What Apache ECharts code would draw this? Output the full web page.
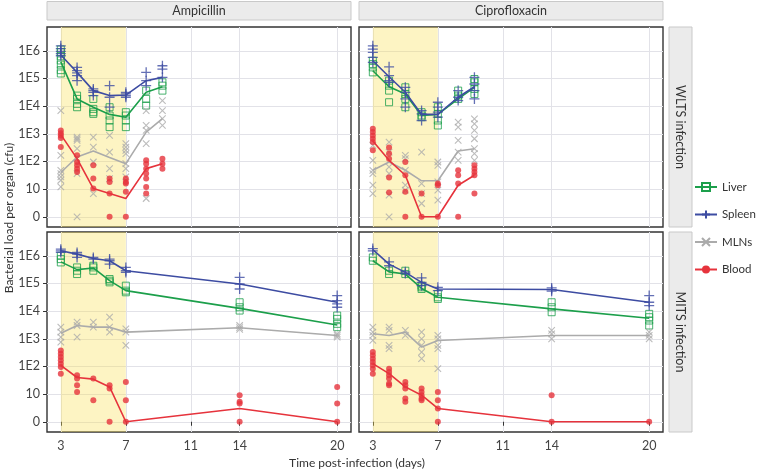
<!DOCTYPE html>
<html><head><meta charset="utf-8">
<script src="https://cdn.jsdelivr.net/npm/echarts@6/dist/echarts.min.js"></script>
<style>html,body{margin:0;padding:0;background:#fff}#c{width:757px;height:472px}</style>
</head><body><div id="c"></div>
<script>
// ---- DATA (y values are log10 cfu; 0 means no bacteria detected) ----
const wltsDays = [3, 4, 5, 6, 7, 8.25, 9.25];
const mitsDays = [3, 4, 5, 6, 7, 14, 20];
const xTicks = [3, 7, 11, 14, 20];
const yTicks = [0, 1, 2, 3, 4, 5, 6];
const yTickLabels = ['0', '10', '1E2', '1E3', '1E4', '1E5', '1E6'];
const drugs = ['Ampicillin', 'Ciprofloxacin'];
const infections = ['WLTS infection', 'MITS infection'];
const organs = ['Liver', 'Spleen', 'MLNs', 'Blood'];
const treatStart = 3, treatEnd = 7;

// Ampicillin, WLTS
const ampWltsLiverPts = [[6.05,5.95,5.8,5.65,5.5,5.3,5.18],[4.38,4.26,4.08,3.96],[4.26,3.9,3.78,3.72],[3.96,3.66,3.48,3.24],[3.78,3.66,3.48,3.24],[4.56,4.26,4.02],[4.86,4.74,4.56]];
const ampWltsLiverMean = [5.6, 4.26, 3.96, 3.7, 3.6, 4.5, 4.7];
const ampWltsSpleenPts = [[6.18,6.08,5.98,5.9,5.82],[5.4,5.28,5.2,5.1,4.92],[4.62,4.56,4.5,4.38],[4.74,4.32,3.96],[4.5,4.44,4.38,4.32],[5.22,4.92,4.74],[5.46,5.34,5.04]];
const ampWltsSpleenMean = [5.85, 5.22, 4.56, 4.38, 4.4, 4.92, 5.04];
const ampWltsMlnPts = [[3.84,2.22,1.68,1.56,1.44,1.32,1.08],[2.88,2.82,2.76,2.46,2.1,1.56,0],[2.88,2.52,1.98,0.84],[2.94,2.34,1.74,1.38],[2.64,2.52,2.4,2.28,1.92,1.74,1.44],[3.84,3.3,3.12,2.64,0.66],[4.2,3.84,3.55,3.3]];
const ampWltsMlnMean = [1.6, 2.16, 2.38, 2.14, 1.92, 3.06, 3.55];
const ampWltsBloodPts = [[3.12,3.02,2.94,2.85,2.52],[2.22,1.98,1.86,1.74,1.62],[1.86,1.38,1.02],[1.38,1.26,0.84,0],[1.38,1.26,1.2,0.9,0],[2.04,1.92,1.74,1.56,1.38,1.08,0.84],[2.1,1.92,1.74]];
const ampWltsBloodMean = [2.97, 2.1, 1.02, 0.84, 0.66, 1.74, 1.92];

// Ciprofloxacin, WLTS
const cipWltsLiverPts = [[5.64,5.52,5.4,5.22],[4.92,4.74,4.56,4.14],[4.68,4.44,4.26,3.96],[3.78,3.66,3.6],[3.96,3.72,3.48,3.3],[4.56,4.38,4.26],[4.98,4.86,4.62,4.44]];
const cipWltsLiverMean = [5.28, 4.7, 4.44, 3.66, 3.7, 4.26, 4.68];
const cipWltsSpleenPts = [[6.18,6.06,5.94,5.76,5.58],[5.42,5.1,4.92,4.86],[4.68,4.5,4.26,3.96],[3.84,3.72,3.48],[4.14,3.96,3.78,3.6],[4.56,4.32,4.2],[5.04,4.8,4.56,4.26]];
const cipWltsSpleenMean = [5.64, 5.06, 4.5, 3.7, 3.7, 4.32, 4.7];
const cipWltsMlnPts = [[2.58,2.04,1.68,1.56,1.14,0.84],[2.7,2.34,1.8,1.56,0.78,0],[2.22,2.1,1.68,1.14,0.96],[2.34,1.2,0.84,0.48],[1.98,1.86,1.26,0.96,0.6],[3.42,3.24,2.76,2.34,2.04],[3.54,3.36,3.12,2.82,2.46,2.28,2.04]];
const cipWltsMlnMean = [1.68, 1.98, 1.68, 1.3, 1.3, 2.38, 2.46];
const cipWltsBloodPts = [[3.18,3.06,2.94,2.82,2.7,2.4],[2.5,2.29,2.1,1.42,0.88],[1.98,1.5,0.9,0],[0.84,0],[1.2,1.14,0],[1.68,1.5,1.2,0],[1.86,1.74,1.62,1.5,0.84]];
const cipWltsBloodMean = [2.74, 2.04, 1.5, 0, 0, 1.14, 1.5];

// Ampicillin, MITS
const ampMitsLiverPts = [[6.0,5.88,5.76],[5.58,5.46,5.34],[5.64,5.58,5.46],[5.16,5.1,5.04],[4.92,4.74,4.68],[4.32,4.14,4.02],[3.84,3.72,3.54,3.42]];
const ampMitsLiverMean = [5.78, 5.5, 5.56, 5.1, 4.74, 4.1, 3.5];
const ampMitsSpleenPts = [[6.24,6.18,6.12],[6.12,6.06,5.94],[5.94,5.88],[5.88,5.82,5.7],[5.58,5.46,5.4],[5.22,4.98,4.8],[4.56,4.38,4.26,4.14]];
const ampMitsSpleenMean = [6.18, 6.06, 5.9, 5.82, 5.46, 4.98, 4.32];
const ampMitsMlnPts = [[3.42,3.24,3.06,2.88],[3.6,3.48,3.06],[3.6,3.42],[3.78,3.42,3.24],[3.36,3.24,2.76],[3.48,3.4,3.34],[3.18,3.12,3.06]];
const ampMitsMlnMean = [3.2, 3.48, 3.42, 3.42, 3.24, 3.4, 3.12];
const ampMitsBloodPts = [[2.58,2.46,2.34,2.22,2.1,1.98,1.74],[1.68,1.56,1.32,1.08],[1.56,0.78],[1.32,1.2,0],[1.44,0.78,0],[0.96,0.72,0.66,0],[1.26,0.66,0]];
const ampMitsBloodMean = [2.04, 1.6, 1.54, 1.26, 0, 0.48, 0];

// Ciprofloxacin, MITS
const cipMitsLiverPts = [[5.94,5.82],[5.46,5.34],[5.46,5.34],[4.92,4.86,4.8],[4.62,4.5,4.44],[4.32,4.14,3.96],[3.9,3.78,3.66,3.48]];
const cipMitsLiverMean = [5.82, 5.42, 5.34, 4.82, 4.5, 4.08, 3.74];
const cipMitsSpleenPts = [[6.26,6.18],[5.78,5.64],[5.42,5.36],[5.2,5.04,4.92],[4.86,4.74],[4.84,4.78,4.72],[4.56,4.32,4.2]];
const cipMitsSpleenMean = [6.22, 5.7, 5.4, 5.04, 4.8, 4.78, 4.32];
const cipMitsMlnPts = [[3.42,3.24,3.12,2.94],[3.42,3.3,2.76,2.64],[3.3,3.12],[3.24,3.0,2.76,2.52,2.28],[3.12,3.0,2.76,2.64,1.92],[3.3,3.18,3.0],[3.24,3.12,3.0]];
const cipMitsMlnMean = [3.18, 3.12, 3.24, 2.7, 2.94, 3.12, 3.12];
const cipMitsBloodPts = [[2.52,2.4,2.28,2.16,2.04,1.92,1.74],[1.92,1.8,1.68,1.56,1.38,1.32],[1.44,1.32,1.2,0.84,0.72],[1.2,1.08,0.96,0.84,0.78],[1.08,0.78,0.48,0],[0.96,0],[0]];
const cipMitsBloodMean = [2.1, 1.74, 1.26, 0.96, 0.48, 0, 0];

// ---- BUILD ----
const panels = [
  {days: wltsDays, d: [[ampWltsLiverPts,ampWltsLiverMean],[ampWltsSpleenPts,ampWltsSpleenMean],[ampWltsMlnPts,ampWltsMlnMean],[ampWltsBloodPts,ampWltsBloodMean]]},
  {days: wltsDays, d: [[cipWltsLiverPts,cipWltsLiverMean],[cipWltsSpleenPts,cipWltsSpleenMean],[cipWltsMlnPts,cipWltsMlnMean],[cipWltsBloodPts,cipWltsBloodMean]]},
  {days: mitsDays, d: [[ampMitsLiverPts,ampMitsLiverMean],[ampMitsSpleenPts,ampMitsSpleenMean],[ampMitsMlnPts,ampMitsMlnMean],[ampMitsBloodPts,ampMitsBloodMean]]},
  {days: mitsDays, d: [[cipMitsLiverPts,cipMitsLiverMean],[cipMitsSpleenPts,cipMitsSpleenMean],[cipMitsMlnPts,cipMitsMlnMean],[cipMitsBloodPts,cipMitsBloodMean]]}
];
const FONT = 'Lato';
const colors = {Liver:'#1c9f4b', Spleen:'#3d4ca2', MLNs:'#ababab', Blood:'#e6333c'};
const PLUS = 'path://M0,5L10,5M5,0L5,10';
const CROSS = 'path://M0,0L10,10M0,10L10,0';
const sym = {
  Liver: {symbol:'rect', size:7, style:c=>({color:'rgba(255,255,255,0)', borderColor:c, borderWidth:1})},
  Spleen:{symbol:PLUS, size:10, style:c=>({color:'rgba(0,0,0,0)', borderColor:c, borderWidth:1.3})},
  MLNs:  {symbol:CROSS, size:6.5, style:c=>({color:'rgba(0,0,0,0)', borderColor:c, borderWidth:1.1})},
  Blood: {symbol:'circle', size:6, style:c=>({color:c, borderWidth:0})}
};
const gridPos = [
  {left:47, top:27}, {left:359, top:27}, {left:47, top:232}, {left:359, top:232}
];
const W = 304, H = 200;
const grids = gridPos.map(p => ({left:p.left, top:p.top, width:W, height:H, show:true,
  borderColor:'#333', borderWidth:1.4, backgroundColor:'#fff', containLabel:false}));
const gridLine = {show:true, lineStyle:{color:'#e2e2e8', width:1}};
const xAxes = gridPos.map((p,i) => ({type:'value', gridIndex:i, min:2.15, max:20.85,
  axisLine:{show:false},
  axisTick:{show:i>=2, length:4, lineStyle:{color:'#333'}, customValues:xTicks},
  axisLabel:{show:i>=2, customValues:xTicks, margin:7, fontSize:12.5, color:'#444', fontFamily:FONT},
  splitLine:gridLine}));
const yAxes = gridPos.map((p,i) => ({type:'value', gridIndex:i, min:-0.37, max:6.86,
  axisLine:{show:false},
  axisTick:{show:i%2===0, length:4, lineStyle:{color:'#333'}, customValues:yTicks},
  axisLabel:{show:i%2===0, customValues:yTicks, margin:7, fontSize:12.5, color:'#444', fontFamily:FONT,
    formatter:v => yTickLabels[yTicks.indexOf(Math.round(v))]},
  splitLine:gridLine}));

const series = [];
panels.forEach((pn, gi) => {
  // shaded treatment window
  series.push({type:'line', xAxisIndex:gi, yAxisIndex:gi, data:[], silent:true, z:1,
    markArea:{silent:true, itemStyle:{color:'rgba(250,224,90,0.36)'},
      data:[[{xAxis:treatStart},{xAxis:treatEnd}]]}});
  organs.forEach((org, oi) => {
    const [pts, mean] = pn.d[oi];
    const c = colors[org];
    const sdata = [];
    pts.forEach((arr, di) => arr.forEach(v => sdata.push([pn.days[di], v])));
    series.push({type:'scatter', name:org+' pts', xAxisIndex:gi, yAxisIndex:gi, data:sdata,
      symbol:sym[org].symbol, symbolSize:sym[org].size, itemStyle:sym[org].style(c), z:3+oi});
    series.push({type:'line', name:org, xAxisIndex:gi, yAxisIndex:gi,
      data:mean.map((v,di)=>[pn.days[di], v]), showSymbol:false, symbol:sym[org].symbol,
      symbolSize:sym[org].size, color:c, lineStyle:{color:c, width:1.6},
      itemStyle:sym[org].style(c), z:3+oi});
  });
});

const graphic = [];
// top strips
[[47,drugs[0]],[359,drugs[1]]].forEach(([x,t]) => {
  graphic.push({type:'rect', shape:{x:x, y:1.5, width:W, height:18.5}, style:{fill:'#ebebeb', stroke:'#c9c9c9', lineWidth:1}});
  graphic.push({type:'text', x:x+W/2, y:11, style:{text:t, fill:'#333', font:'12.5px '+FONT, textAlign:'center', textVerticalAlign:'middle'}});
});
// right strips
[[27,infections[0]],[232,infections[1]]].forEach(([y,t]) => {
  graphic.push({type:'rect', shape:{x:669, y:y, width:23, height:H}, style:{fill:'#ebebeb', stroke:'#c9c9c9', lineWidth:1}});
  graphic.push({type:'text', x:680.5, y:y+H/2, rotation:-Math.PI/2, style:{text:t, fill:'#333', font:'12.5px '+FONT, textAlign:'center', textVerticalAlign:'middle'}});
});
graphic.push({type:'text', x:9, y:218, rotation:Math.PI/2, style:{text:'Bacterial load per organ (cfu)', fill:'#333', font:'12px '+FONT, textAlign:'center', textVerticalAlign:'middle'}});
graphic.push({type:'text', x:357, y:463, style:{text:'Time post-infection (days)', fill:'#333', font:'12px '+FONT, textAlign:'center', textVerticalAlign:'middle'}});

const chart = echarts.init(document.getElementById('c'), null, {renderer:'canvas'});
chart.setOption({
  animation:false,
  grid:grids, xAxis:xAxes, yAxis:yAxes, series:series, graphic:graphic,
  legend:{data:organs, orient:'vertical', left:689, top:176, itemWidth:22, itemHeight:10, itemGap:15.5,
    textStyle:{fontSize:11.5, color:'#333', fontFamily:FONT}, selectedMode:false}
});
</script></body></html>
